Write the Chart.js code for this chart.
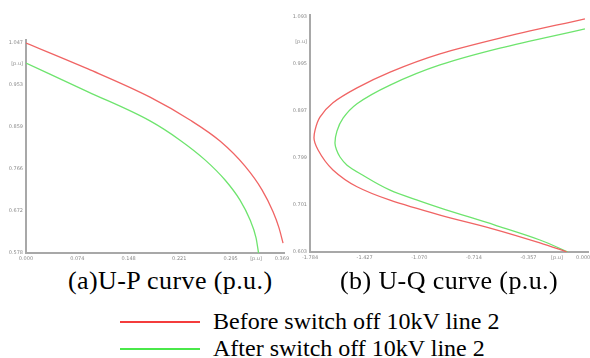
<!DOCTYPE html>
<html>
<head>
<meta charset="utf-8">
<script src="https://cdn.jsdelivr.net/npm/chart.js@4"></script>
<style>
  body { margin: 0; background: #fff; width: 590px; height: 358px; position: relative; overflow: hidden; }
  .box { position: absolute; top: 0; height: 265px; }
  #upBox { left: 0; width: 290px; }
  #uqBox { left: 284px; width: 306px; }
  .cap { position: absolute; font-family: "Liberation Serif", "Times New Roman", serif; font-size: 26px; letter-spacing: 0.4px; color: #000; white-space: nowrap; line-height: 30px; }
  .leg { position: absolute; left: 120px; font-family: "Liberation Serif", "Times New Roman", serif; font-size: 24px; color: #000; white-space: nowrap; line-height: 26px; }
  .leg i { position: absolute; left: 0; width: 80px; height: 1.5px; top: 13px; }
  .leg span { margin-left: 93px; }
</style>
</head>
<body>
<div class="box" id="upBox"><canvas id="upChart"></canvas></div>
<div class="box" id="uqBox"><canvas id="uqChart"></canvas></div>
<div class="cap" style="left:68px; top:266px;">(a)U-P curve (p.u.)</div>
<div class="cap" style="left:340px; top:266px;">(b) U-Q curve (p.u.)</div>
<div class="leg" style="top:308px;"><i style="background:#f43c3c"></i><span>Before switch off 10kV line 2</span></div>
<div class="leg" style="top:335px;"><i style="background:#4ae84a"></i><span>After switch off 10kV line 2</span></div>
<script>
const seriesNames = ['Before switch off 10kV line 2', 'After switch off 10kV line 2'];

// (a) U-P curve
const upBeforeP = [0, 0.0894, 0.1788, 0.2365, 0.2797, 0.3158, 0.3403, 0.3562, 0.3648, 0.3706];
const upBeforeU = [1.047, 0.989, 0.926, 0.875, 0.828, 0.772, 0.719, 0.670, 0.634, 0.600];
const upAfterP = [0, 0.0894, 0.1788, 0.2221, 0.2581, 0.2870, 0.3086, 0.3230, 0.3317, 0.3353];
const upAfterU = [1.002, 0.938, 0.873, 0.830, 0.786, 0.741, 0.696, 0.652, 0.612, 0.578];
const upXTicks = [0.000, 0.074, 0.148, 0.221, 0.295, 0.369];
const upYTicks = [0.578, 0.672, 0.766, 0.859, 0.953, 1.047];

// (b) U-Q curve
const uqBeforeQ = [0.012, -0.543, -0.935, -1.261, -1.477, -1.634, -1.719, -1.751, -1.758, -1.732, -1.634, -1.477, -1.261, -0.935, -0.608, -0.282, -0.105];
const uqBeforeU = [1.089, 1.049, 1.016, 0.978, 0.945, 0.914, 0.884, 0.857, 0.841, 0.816, 0.774, 0.739, 0.711, 0.680, 0.653, 0.622, 0.603];
const uqAfterQ = [0.012, -0.543, -0.935, -1.261, -1.477, -1.568, -1.608, -1.621, -1.611, -1.588, -1.542, -1.444, -1.261, -1.065, -0.935, -0.576, -0.282, -0.099];
const uqAfterU = [1.068, 1.028, 0.993, 0.951, 0.912, 0.882, 0.855, 0.830, 0.816, 0.801, 0.784, 0.764, 0.732, 0.709, 0.695, 0.659, 0.628, 0.603];
const uqXTicks = [-1.784, -1.427, -1.070, -0.714, -0.357, 0.000];
const uqYTicks = [0.603, 0.701, 0.799, 0.897, 0.995, 1.093];

const unitLabel = '[p.u]';
const colors = ['#f06464', '#6ee46e'];

function pts(xs, ys) { return xs.map((x, i) => ({ x, y: ys[i] })); }

function axis(ticks, unitAt, min, max, size, isX) {
  return {
    type: 'linear', min, max,
    grid: { display: false, drawTicks: false },
    border: { display: true, color: '#a8a8a8', width: 2 },
    afterBuildTicks: s => { s.ticks = ticks.concat([unitAt]).map(v => ({ value: v })); },
    afterFit: s => { if (isX) s.height = size; else s.width = size; },
    ticks: {
      autoSkip: false, maxRotation: 0, padding: 3,
      color: '#8a8a8a', font: { size: 5, family: 'DejaVu Sans' },
      callback: v => v === unitAt ? unitLabel : v.toFixed(3)
    }
  };
}

// curves are smooth in U, so the U-Q one runs its spline along the y axis
function drawCurve(id, sets, xs, ys, pad, indexAxis) {
  new Chart(document.getElementById(id), {
    type: 'scatter',
    data: {
      datasets: sets.map((d, i) => ({
        label: seriesNames[i], data: d, showLine: true,
        cubicInterpolationMode: 'monotone',
        borderColor: colors[i], borderWidth: 1.3, pointRadius: 0
      }))
    },
    options: {
      indexAxis,
      responsive: true, maintainAspectRatio: false, animation: false,
      layout: { padding: pad },
      plugins: { legend: { display: false }, tooltip: { enabled: false } },
      scales: { x: xs, y: ys }
    }
  });
}

drawCurve('upChart',
  [pts(upBeforeP, upBeforeU), pts(upAfterP, upAfterU)],
  axis(upXTicks, 0.3317, 0, 0.372, 12, true),
  axis(upYTicks, 1.000, 0.578, 1.0537, 26, false),
  { top: 40, right: 6, left: 0, bottom: 0 }, 'x');

drawCurve('uqChart',
  [pts(uqBeforeQ, uqBeforeU), pts(uqAfterQ, uqAfterU)],
  axis(uqXTicks, -0.171, -1.784, 0.032, 13, true),
  axis(uqYTicks, 1.041, 0.603, 1.097, 26, false),
  { top: 15, right: 2, left: 0, bottom: 0 }, 'y');
</script>
</body>
</html>
